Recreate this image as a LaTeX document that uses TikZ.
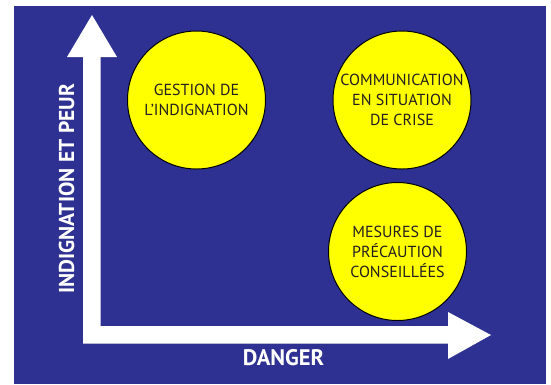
\documentclass[tikz,border=0pt]{standalone}
\usepackage{fontspec}
\setmainfont{PT Sans}
\begin{document}
\begin{tikzpicture}[x=1pt,y=-1pt,
  bgblue/.style={fill=axisblue},
  zone/.style={circle,draw=black,line width=1pt,fill=zoneyellow,minimum size=138pt,inner sep=0pt,
    align=center,text=zonetext,font=\fontsize{16}{20}\selectfont},
  axislabel/.style={text=white,font=\bfseries\fontsize{#1}{20}\selectfont,inner sep=0pt}]
\definecolor{axisblue}{HTML}{2E3192}
\definecolor{zoneyellow}{HTML}{FFFF00}
\definecolor{zonetext}{HTML}{231F20}
\useasboundingbox (0,0) rectangle (551,384);
\fill[white] (0,0) rectangle (551,384);
\fill[bgblue] (14,6) rectangle (546,384);
% the two axes, drawn as one white outline
\fill[white] (83,343.5) -- (83,57) -- (67,57) -- (92,15) -- (117,57) -- (100.5,57)
  -- (100.5,326) -- (448,326) -- (448,312) -- (491,335) -- (448,359) -- (448,343.5) -- cycle;
% the three fields of action
\node[zone] (indig) at (196.5,100) {GESTION DE\\L’INDIGNATION};
\node[zone] (crise) at (402,100) {COMMUNICATION\\EN SITUATION\\DE CRISE};
\node[zone] (precau) at (397.5,251.5) {MESURES DE\\PRÉCAUTION\\CONSEILLÉES};
% axis names
\node[axislabel=21.5,rotate=90] (yname) at (66.5,189) {INDIGNATION ET PEUR};
\node[axislabel=22.5] (xname) at (283.5,358) {DANGER};
\end{tikzpicture}
\end{document}
